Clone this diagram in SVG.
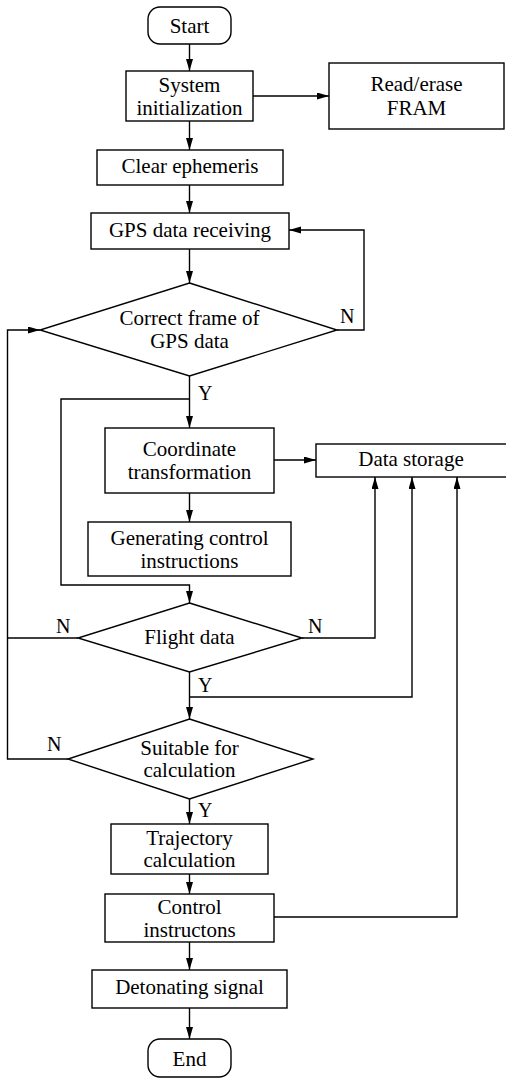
<svg xmlns="http://www.w3.org/2000/svg" width="506" height="1079" viewBox="0 0 506 1079">
<style>
.b{fill:#fff;stroke:#000;stroke-width:1.4}
.t{font-size:21px;fill:#000;text-anchor:middle}
.l{font-size:20px;fill:#000}
.c{fill:none;stroke:#000;stroke-width:1.4}
</style>
<defs>
<marker id="a" markerUnits="userSpaceOnUse" markerWidth="12" markerHeight="8" refX="12" refY="3.5" orient="auto">
<path d="M0,0 L12,3.5 L0,7 Z" fill="#000"/>
</marker>
</defs>
<rect width="506" height="1079" fill="#fff"/>
<g font-family="'Liberation Serif', 'DejaVu Serif', serif">
<g id="connectors">
<path class="c" d="M189.5,44 V71" marker-end="url(#a)"/>
<path class="c" d="M253,96 H329" marker-end="url(#a)"/>
<path class="c" d="M189.5,121 V150" marker-end="url(#a)"/>
<path class="c" d="M189.5,185 V213" marker-end="url(#a)"/>
<path class="c" d="M189.5,249 V283" marker-end="url(#a)"/>
<path class="c" d="M337,330 H364 V230 H289" marker-end="url(#a)"/>
<path class="c" d="M189.5,376 V428" marker-end="url(#a)"/>
<path class="c" d="M274,460 H316" marker-end="url(#a)"/>
<path class="c" d="M189.5,493 V522" marker-end="url(#a)"/>
<path class="c" d="M189.5,399 H61 V585 H189.5 V603" marker-end="url(#a)"/>
<path class="c" d="M78,638 H7.5"/>
<path class="c" d="M68,759 H7.5 V330 H40" marker-end="url(#a)"/>
<path class="c" d="M302,638 H375 V477" marker-end="url(#a)"/>
<path class="c" d="M189.5,672 V719" marker-end="url(#a)"/>
<path class="c" d="M189.5,697 H412 V477" marker-end="url(#a)"/>
<path class="c" d="M189.5,799 V824" marker-end="url(#a)"/>
<path class="c" d="M189.5,874 V894" marker-end="url(#a)"/>
<path class="c" d="M274,917 H457 V477" marker-end="url(#a)"/>
<path class="c" d="M189.5,942 V970" marker-end="url(#a)"/>
<path class="c" d="M189.5,1008 V1039" marker-end="url(#a)"/>
<text class="l" x="340" y="323">N</text>
<text class="l" x="198" y="400">Y</text>
<text class="l" x="56" y="633">N</text>
<text class="l" x="308" y="633">N</text>
<text class="l" x="198" y="692">Y</text>
<text class="l" x="47" y="751">N</text>
<text class="l" x="198" y="817">Y</text>
</g>
<g id="start"><rect class="b" x="148" y="7" width="83" height="37" rx="12"/><text class="t" x="189.5" y="33">Start</text></g>
<g id="sysinit"><rect class="b" x="126" y="71" width="127" height="50"/><text class="t" x="189.5" y="91.5">System</text><text class="t" x="189.5" y="114.5">initialization</text></g>
<g id="fram"><rect class="b" x="329" y="63" width="175" height="66"/><text class="t" x="416.5" y="91">Read/erase</text><text class="t" x="416.5" y="115">FRAM</text></g>
<g id="clear"><rect class="b" x="97" y="150" width="186" height="35"/><text class="t" x="190" y="173">Clear ephemeris</text></g>
<g id="gps"><rect class="b" x="91" y="213" width="198" height="36"/><text class="t" x="190" y="237">GPS data receiving</text></g>
<g id="correct"><polygon class="b" points="189.5,283 337,330 189.5,376 40,330"/><text class="t" x="189.5" y="325">Correct frame of</text><text class="t" x="189.5" y="348">GPS data</text></g>
<g id="coord"><rect class="b" x="105" y="428" width="169" height="65"/><text class="t" x="189.5" y="456">Coordinate</text><text class="t" x="189.5" y="479">transformation</text></g>
<g id="storage"><rect class="b" x="316" y="444" width="192" height="33"/><text class="t" x="411" y="466">Data storage</text></g>
<g id="gen"><rect class="b" x="88" y="522" width="203" height="54"/><text class="t" x="189.5" y="545">Generating control</text><text class="t" x="189.5" y="568">instructions</text></g>
<g id="flight"><polygon class="b" points="189.5,603 302,638 189.5,672 78,638"/><text class="t" x="189.5" y="644">Flight data</text></g>
<g id="suitable"><polygon class="b" points="189.5,719 313,759 189.5,799 68,759"/><text class="t" x="189.5" y="755">Suitable for</text><text class="t" x="189.5" y="777">calculation</text></g>
<g id="traj"><rect class="b" x="111" y="824" width="157" height="50"/><text class="t" x="189.5" y="845">Trajectory</text><text class="t" x="189.5" y="867">calculation</text></g>
<g id="control"><rect class="b" x="105" y="894" width="169" height="48"/><text class="t" x="189.5" y="914">Control</text><text class="t" x="189.5" y="937">instructons</text></g>
<g id="detonate"><rect class="b" x="92" y="970" width="195" height="38"/><text class="t" x="189.5" y="994">Detonating signal</text></g>
<g id="end"><rect class="b" x="148" y="1039" width="83" height="38" rx="12"/><text class="t" x="189.5" y="1066">End</text></g>
</g>
</svg>
